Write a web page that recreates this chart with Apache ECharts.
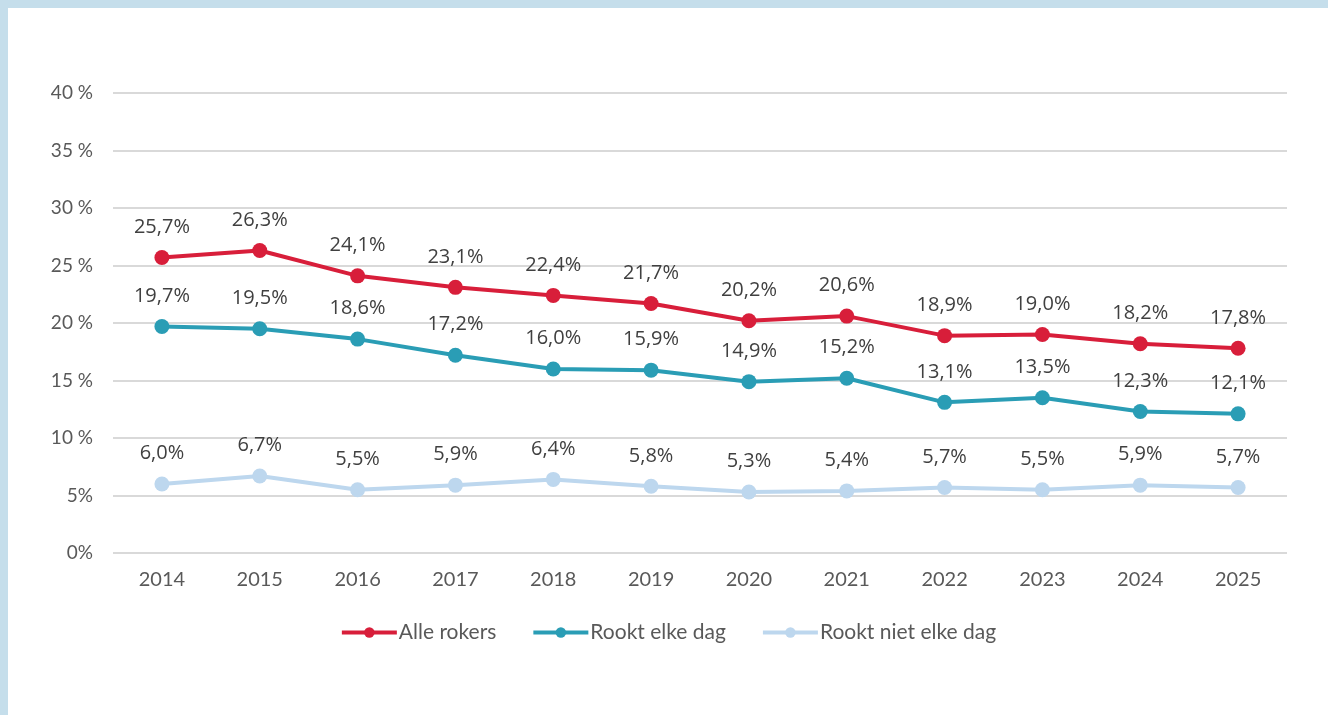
<!DOCTYPE html>
<html>
<head>
<meta charset="utf-8">
<script src="https://cdn.jsdelivr.net/npm/echarts@6/dist/echarts.min.js"></script>
<style>
html,body{margin:0;padding:0;background:#C5DEEB;width:1328px;height:715px;overflow:hidden;}
#chart{position:absolute;left:8px;top:8px;width:1320px;height:707px;background:#fff;}
</style>
</head>
<body>
<div id="chart"></div>
<script>
const years = ['2014','2015','2016','2017','2018','2019','2020','2021','2022','2023','2024','2025'];
const alleRokers = [25.7,26.3,24.1,23.1,22.4,21.7,20.2,20.6,18.9,19.0,18.2,17.8];
const rooktElkeDag = [19.7,19.5,18.6,17.2,16.0,15.9,14.9,15.2,13.1,13.5,12.3,12.1];
const rooktNietElkeDag = [6.0,6.7,5.5,5.9,6.4,5.8,5.3,5.4,5.7,5.5,5.9,5.7];
const seriesNames = ['Alle rokers','Rookt elke dag','Rookt niet elke dag'];
const colors = ['#D81E3A','#2A9DB5','#BDD7EE'];

const chart = echarts.init(document.getElementById('chart'));
function mk(name, data, color){
  return {
    name, type:'line', data,
    symbol:'circle', symbolSize:15,
    lineStyle:{width:4,color},
    itemStyle:{color},
    label:{show:true,position:'top',distance:13,
      formatter:p=>p.value.toFixed(1).replace('.',',')+'%',
      fontFamily:'Open Sans',fontSize:20,color:'#404040'},
    emphasis:{disabled:true},
    z: 3
  };
}
chart.setOption({
  animation:false,
  grid:{left:105,right:41,top:85,bottom:162,containLabel:false},
  legend:{
    data:seriesNames, top:609, left:'center',
    itemWidth:55, itemHeight:13, itemGap:35,
    itemStyle:{},
    lineStyle:{width:4},
    textStyle:{fontFamily:'Lato',fontSize:21,color:'#595959',padding:[0,0,0,-3]}
  },
  xAxis:{
    type:'category', data:years, boundaryGap:true,
    axisLine:{show:false}, axisTick:{show:false},
    axisLabel:{fontFamily:'Lato',fontSize:20,color:'#595959',margin:17}
  },
  yAxis:{
    type:'value', min:0, max:40, interval:5,
    axisLine:{show:false}, axisTick:{show:false},
    splitLine:{lineStyle:{color:'#D9D9D9',width:2}},
    axisLabel:{fontFamily:'Lato',fontSize:19,color:'#595959',margin:20,
      formatter:v=> v>=10 ? v+' %' : v+'%'}
  },
  series:[
    mk(seriesNames[0], alleRokers, colors[0]),
    mk(seriesNames[1], rooktElkeDag, colors[1]),
    mk(seriesNames[2], rooktNietElkeDag, colors[2])
  ]
});
</script>
</body>
</html>
